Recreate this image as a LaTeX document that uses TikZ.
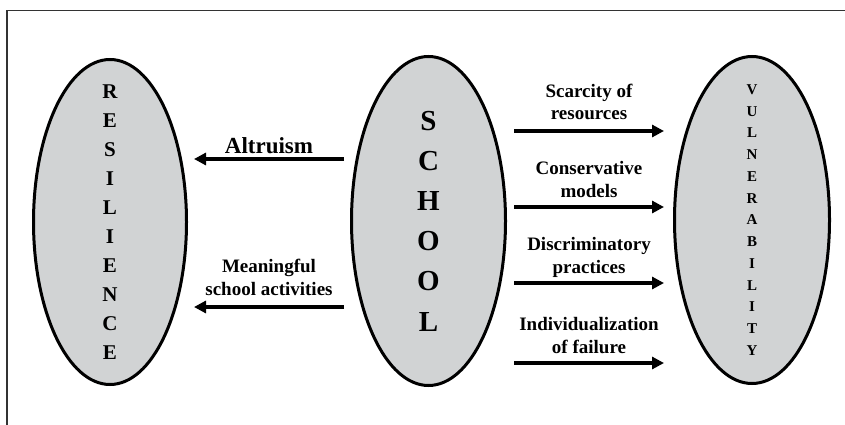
\documentclass[tikz,border=0pt]{standalone}
\usepackage{fontspec}
\setmainfont{Liberation Serif}
\usetikzlibrary{arrows.meta,shapes.geometric}
\definecolor{blobgray}{RGB}{209,211,212}
\begin{document}
\begin{tikzpicture}[x=1pt,y=-1pt,
  blob/.style={ellipse, draw=black, line width=3pt, fill=blobgray, inner sep=0pt},
  stackA/.style={align=center, inner sep=0pt, font=\bfseries\fontsize{21}{29}\selectfont},
  stackB/.style={align=center, inner sep=0pt, font=\bfseries\fontsize{29}{40.2}\selectfont},
  stackC/.style={align=center, inner sep=0pt, font=\bfseries\fontsize{15}{21.75}\selectfont},
  arr/.style={line width=3.6pt, -{Triangle[length=12pt,width=12pt]}},
  lbl/.style={align=center, inner sep=0pt, anchor=base, font=\bfseries\fontsize{19}{22.5}\selectfont},
  biglbl/.style={align=center, inner sep=0pt, anchor=base, font=\bfseries\fontsize{23}{27}\selectfont}]
\useasboundingbox (0,0) rectangle (845,425);
% frame
\draw[line width=1.5pt, black!80] (7,425) -- (7,10.5) -- (845,10.5);
% ellipses
\node[blob, minimum width=153pt, minimum height=325pt] (res) at (110,222) {};
\node[blob, minimum width=154pt, minimum height=329pt] (sch) at (428.5,221) {};
\node[blob, minimum width=155pt, minimum height=327pt] (vul) at (752,220) {};
\node[stackA] (restxt) at (res.center) {R\\E\\S\\I\\L\\I\\E\\N\\C\\E};
\node[stackB] (schtxt) at (sch.center) {S\\C\\H\\O\\O\\L};
\node[stackC] (vultxt) at (vul.center) {V\\U\\L\\N\\E\\R\\A\\B\\I\\L\\I\\T\\Y};
% arrow endpoints
\coordinate (l1s) at (344,159);
\coordinate (l1e) at (194,159);
\coordinate (l2s) at (344,307);
\coordinate (l2e) at (194,307);
\coordinate (r1s) at (514,131);
\coordinate (r1e) at (664,131);
\coordinate (r2s) at (514,207);
\coordinate (r2e) at (664,207);
\coordinate (r3s) at (514,283);
\coordinate (r3e) at (664,283);
\coordinate (r4s) at (514,363);
\coordinate (r4e) at (664,363);
\draw[arr] (l1s) -- (l1e);
\draw[arr] (l2s) -- (l2e);
\draw[arr] (r1s) -- (r1e);
\draw[arr] (r2s) -- (r2e);
\draw[arr] (r3s) -- (r3e);
\draw[arr] (r4s) -- (r4e);
% labels (base = baseline of last line)
\node[biglbl] (altr) at (269,153) {Altruism};
\node[lbl] (mean) at (269,295) {Meaningful\\school activities};
\node[lbl] (scar) at (589,120) {Scarcity of\\resources};
\node[lbl] (cons) at (589,197) {Conservative\\models};
\node[lbl] (disc) at (589,273) {Discriminatory\\practices};
\node[lbl] (indi) at (589,353) {Individualization\\of failure};
\end{tikzpicture}
\end{document}
